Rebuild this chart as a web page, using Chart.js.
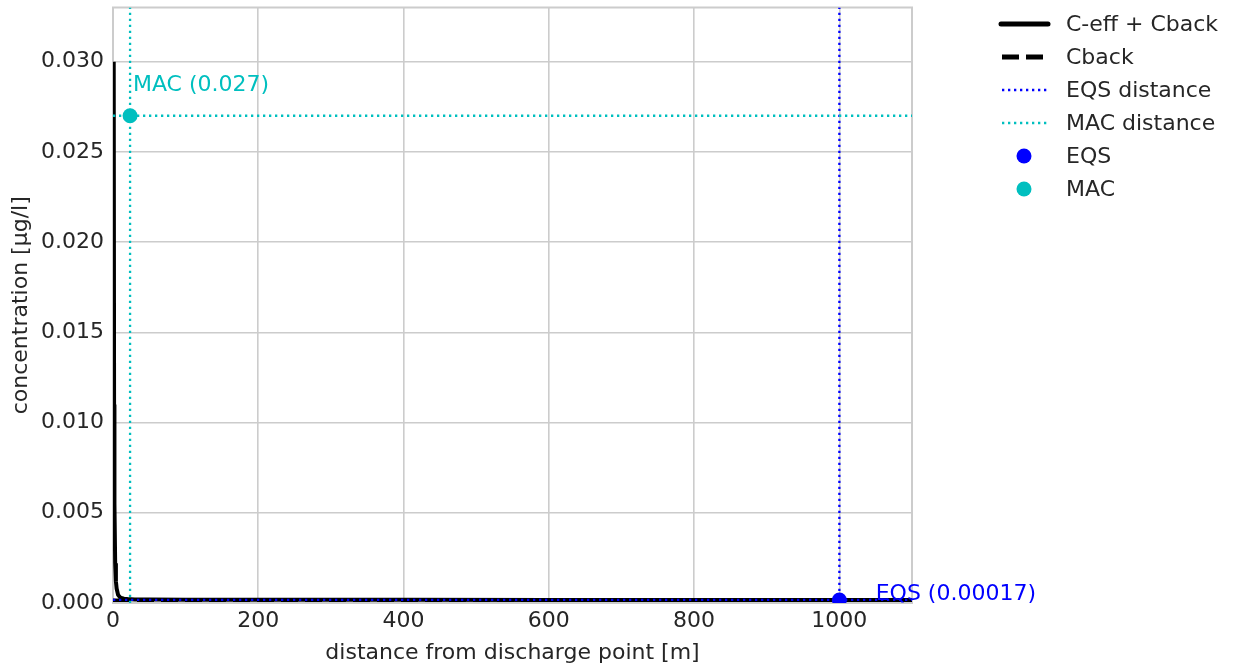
<!DOCTYPE html>
<html>
<head>
<meta charset="utf-8">
<script src="https://cdn.jsdelivr.net/npm/chart.js@4"></script>
<style>
  body { margin: 0; background: #fff; }
  #wrap { position: relative; width: 1234px; height: 670px; }
  #legend { position: absolute; left: 996px; top: 7px; font-family: "DejaVu Sans", sans-serif; font-size: 22px; color: #262626; }
  .row { height: 33px; display: flex; align-items: center; }
  .row svg { width: 60px; height: 20px; margin-right: 10px; }
</style>
</head>
<body>
<div id="wrap">
  <canvas id="myChart" width="1234" height="670"></canvas>
  <div id="legend"></div>
</div>
<script>
// distance [m] and concentration [µg/l]
var distances = [1, 1.5, 2, 3, 4, 5, 7, 10, 15, 20, 30, 50, 100, 200, 400, 600, 800, 1000, 1100];
var concTotal = [0.0300, 0.0110, 0.0055, 0.0022, 0.0012, 0.0008, 0.00045, 0.00030, 0.00024, 0.00022, 0.00020, 0.00019, 0.000185, 0.00018, 0.000176, 0.000173, 0.000171, 0.00017, 0.000169];
var cback = 0.00015;
var eqsValue = 0.00017;
var eqsDistance = 1000;
var macValue = 0.027;
var macDistance = 23.5;
var xMin = 0, xMax = 1100;
var yMin = 0, yMax = 0.033;
var xTicks = [0, 200, 400, 600, 800, 1000];
var yTicks = [0, 0.005, 0.010, 0.015, 0.020, 0.025, 0.030];

var BLUE = '#0000ff';
var CYAN = '#00bfbf';
var FONT = '"DejaVu Sans", sans-serif';
var DOTS = [2.3, 3.7];
var DASH = [17, 7];

var datasets = [
    {
        label: 'C-eff + Cback',
        data: distances.map((d, i) => ({x: d, y: concTotal[i]})),
        borderColor: '#000', borderWidth: 4, pointRadius: 0, order: 5, tension: 0
    },
    {
        label: 'Cback',
        data: [{x: xMin, y: cback}, {x: xMax, y: cback}],
        borderColor: '#000', borderWidth: 3.5, borderDash: DASH, pointRadius: 0, order: 4
    },
    {
        label: 'EQS distance',
        data: [{x: eqsDistance, y: yMin}, {x: eqsDistance, y: yMax}],
        borderColor: BLUE, borderWidth: 2.3, borderDash: DOTS, pointRadius: 0, order: 3
    },
    {
        label: 'MAC distance',
        data: [{x: macDistance, y: yMin}, {x: macDistance, y: yMax}],
        borderColor: CYAN, borderWidth: 2.3, borderDash: DOTS, pointRadius: 0, order: 2
    },
    {
        label: 'EQS',
        data: [{x: eqsDistance, y: eqsValue}],
        showLine: false, pointRadius: 7.5, pointBackgroundColor: BLUE, pointBorderWidth: 0, order: 0, clip: 0
    },
    {
        label: 'MAC',
        data: [{x: macDistance, y: macValue}],
        showLine: false, pointRadius: 7.5, pointBackgroundColor: CYAN, pointBorderWidth: 0, order: 0, clip: 0
    },
    // horizontal lines, not in legend
    {
        label: '_eqs_h',
        data: [{x: xMin, y: eqsValue}, {x: xMax, y: eqsValue}],
        borderColor: BLUE, borderWidth: 2.3, borderDash: DOTS, pointRadius: 0, order: 3
    },
    {
        label: '_mac_h',
        data: [{x: xMin, y: macValue}, {x: xMax, y: macValue}],
        borderColor: CYAN, borderWidth: 2.3, borderDash: DOTS, pointRadius: 0, order: 2
    }
];

var annotations = {
    id: 'annotations',
    afterDatasetsDraw(chart) {
        var ctx = chart.ctx, xs = chart.scales.x, ys = chart.scales.y;
        ctx.save();
        ctx.font = '22px ' + FONT;
        ctx.textBaseline = 'alphabetic';
        ctx.fillStyle = CYAN;
        ctx.fillText('MAC (' + macValue + ')', xs.getPixelForValue(macDistance * 1.05) + 2, ys.getPixelForValue(macValue * 1.05));
        ctx.fillStyle = BLUE;
        ctx.fillText('EQS (' + eqsValue + ')', xs.getPixelForValue(eqsDistance * 1.05), ys.getPixelForValue(eqsValue * 1.05));
        ctx.restore();
    },
    beforeDatasetsDraw(chart) {
        var ctx = chart.ctx, a = chart.chartArea;
        ctx.save();
        ctx.strokeStyle = '#cccccc';
        ctx.lineWidth = 2;
        ctx.strokeRect(a.left, a.top, a.right - a.left, a.bottom - a.top);
        ctx.restore();
    }
};

var ctx = document.getElementById('myChart').getContext('2d');
window.myChart = new Chart(ctx, {
    type: 'line',
    data: { datasets: datasets },
    options: {
        responsive: false,
        animation: false,
        layout: { padding: { left: 8, top: 6, right: 322, bottom: 0 } },
        plugins: { legend: { display: false }, tooltip: { enabled: false } },
        scales: {
            x: {
                type: 'linear', min: xMin, max: xMax,
                afterBuildTicks: s => { s.ticks = xTicks.map(v => ({value: v})); },
                afterFit: s => { s.height = 67; s.paddingLeft = 0; s.paddingRight = 0; },
                grid: { color: '#cccccc', lineWidth: 1.6, drawTicks: false },
                border: { display: false },
                ticks: { color: '#262626', font: { family: FONT, size: 22 }, padding: 5, maxRotation: 0, callback: v => String(v) },
                title: { display: true, text: 'distance from discharge point [m]', color: '#262626', font: { family: FONT, size: 22 }, padding: { top: 2, bottom: 4 } }
            },
            y: {
                type: 'linear', min: yMin, max: yMax,
                afterBuildTicks: s => { s.ticks = yTicks.map(v => ({value: v})); },
                afterFit: s => { s.width = 105; s.paddingTop = 0; s.paddingBottom = 0; },
                grid: { color: '#cccccc', lineWidth: 1.6, drawTicks: false },
                border: { display: false },
                ticks: { color: '#262626', font: { family: FONT, size: 22 }, padding: 9, callback: v => v.toFixed(3) },
                title: { display: true, text: 'concentration [µg/l]', color: '#262626', font: { family: FONT, size: 22 }, padding: { top: 0, bottom: 4 } }
            }
        }
    },
    plugins: [annotations]
});

// legend
function sample(ds) {
    if (ds.showLine === false) {
        return '<svg viewBox="0 0 60 20"><circle cx="28" cy="10" r="7.5" fill="' + ds.pointBackgroundColor + '"/></svg>';
    }
    var dash = ds.borderDash ? ds.borderDash.join(' ') : 'none';
    var w = ds.label === 'C-eff + Cback' ? 5 : (ds.label === 'Cback' ? 5 : ds.borderWidth);
    var cap = ds.label === 'C-eff + Cback' ? 'round' : 'butt';
    var x1 = ds.label === 'C-eff + Cback' ? 5 : 6;
    return '<svg viewBox="0 0 60 20"><line x1="' + x1 + '" y1="10" x2="52" y2="10" stroke="' + ds.borderColor + '" stroke-width="' + w + '" stroke-linecap="' + cap + '" stroke-dasharray="' + dash + '"/></svg>';
}
var html = '';
datasets.filter(ds => ds.label[0] !== '_').forEach(ds => {
    html += '<div class="row">' + sample(ds) + '<span>' + ds.label + '</span></div>';
});
document.getElementById('legend').innerHTML = html;
</script>
</body>
</html>
